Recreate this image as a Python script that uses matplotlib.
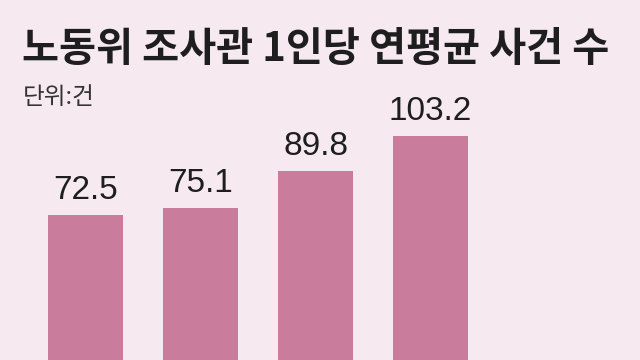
import matplotlib.pyplot as plt

# data
values = [72.5, 75.1, 89.8, 103.2]
labels = ["72.5", "75.1", "89.8", "103.2"]
title = "노동위 조사관 1인당 연평균 사건 수"
unit = "단위:건"

bg = "#f6eaf0"
bar_color = "#c97c9b"

plt.rcParams['font.family'] = ['Noto Sans CJK KR', 'DejaVu Sans']

fig = plt.figure(figsize=(6.4, 3.6), dpi=100, facecolor=bg)
ax = fig.add_axes([0, 0, 1, 1])
ax.set_facecolor(bg)

x = list(range(len(values)))
ax.bar(x, values, width=0.65, color=bar_color)
for xi, v, lab in zip(x, values, labels):
    ax.text(xi, v + 3.5, lab, ha="center", va="bottom", fontsize=24,
            family=["Liberation Sans Narrow", "Liberation Sans", "DejaVu Sans"],
            color="#1e1e1e")

ax.set_xlim(-0.743, 4.82)
ax.set_ylim(16.1, 156.2)
ax.axis("off")

fig.text(0.034, 0.862, title, fontsize=29, fontweight="bold", color="#1e1e1e",
         va="center", ha="left")
fig.text(0.036, 0.728, unit, fontsize=17, color="#333333", va="center", ha="left")

fig.savefig("out.png", dpi=100, facecolor=bg)
